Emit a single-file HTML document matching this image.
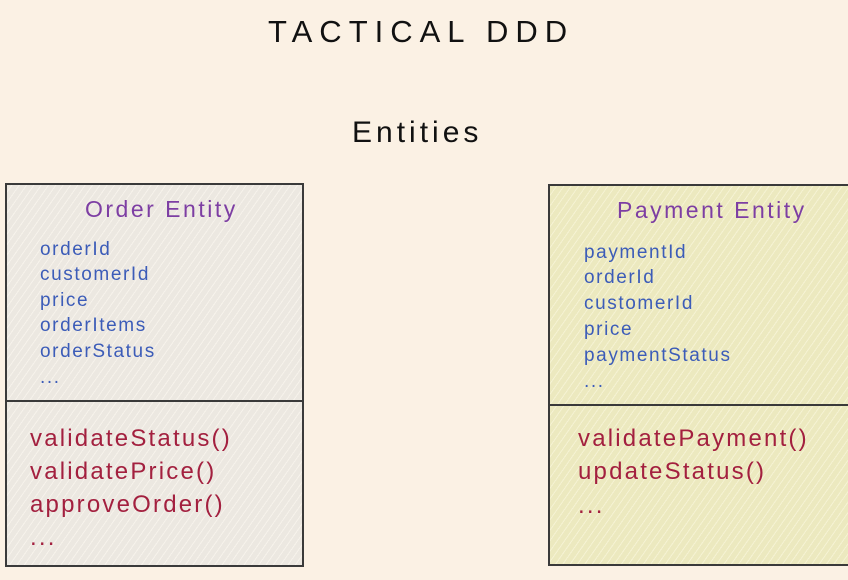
<!DOCTYPE html>
<html><head><meta charset="utf-8"><style>
body{margin:0;width:848px;height:580px;background:#fbf1e4;position:relative;overflow:hidden;font-family:"Liberation Sans",sans-serif}
.t{position:absolute;white-space:nowrap;line-height:1}
.box{position:absolute;border:2px solid #3a3a3a;box-sizing:border-box}
.div{position:absolute;left:0;right:0;height:0;border-top:2px solid #3a3a3a}
.f{color:#3c5cb8;font-size:19px;letter-spacing:1.6px}
.m{color:#a3203f;font-size:24px;letter-spacing:2.2px}
.h{color:#7d3ea3;font-size:23px;letter-spacing:2.5px}
</style></head><body>
<div class="t" style="left:268px;top:16px;font-size:31px;color:#111;letter-spacing:7px">TACTICAL DDD</div>
<div class="t" style="left:352px;top:118px;font-size:30px;color:#111;letter-spacing:4px">Entities</div>

<div class="box" style="left:5px;top:183px;width:299px;height:384px;background:repeating-linear-gradient(-55deg,#ece8e1 0 5px,#f6f2eb 5px 6px)">
<div class="div" style="top:215px"></div></div>
<div class="t h" style="left:85px;top:198px">Order Entity</div>
<div class="t f" style="left:40px;top:240px">orderId</div>
<div class="t f" style="left:40px;top:265px">customerId</div>
<div class="t f" style="left:40px;top:291px">price</div>
<div class="t f" style="left:40px;top:316px">orderItems</div>
<div class="t f" style="left:40px;top:342px">orderStatus</div>
<div class="t f" style="left:40px;top:368px">...</div>
<div class="t m" style="left:30px;top:427px">validateStatus()</div>
<div class="t m" style="left:30px;top:460px">validatePrice()</div>
<div class="t m" style="left:30px;top:493px">approveOrder()</div>
<div class="t m" style="left:30px;top:526px">...</div>

<div class="box" style="left:548px;top:184px;width:302px;height:382px;background:repeating-linear-gradient(-55deg,#ece9bf 0 5px,#f5f2d3 5px 6px)">
<div class="div" style="top:218px"></div></div>
<div class="t h" style="left:617px;top:199px">Payment Entity</div>
<div class="t f" style="left:584px;top:243px">paymentId</div>
<div class="t f" style="left:584px;top:268px">orderId</div>
<div class="t f" style="left:584px;top:294px">customerId</div>
<div class="t f" style="left:584px;top:320px">price</div>
<div class="t f" style="left:584px;top:346px">paymentStatus</div>
<div class="t f" style="left:584px;top:372px">...</div>
<div class="t m" style="left:578px;top:427px">validatePayment()</div>
<div class="t m" style="left:578px;top:460px">updateStatus()</div>
<div class="t m" style="left:578px;top:494px">...</div>
</body></html>
